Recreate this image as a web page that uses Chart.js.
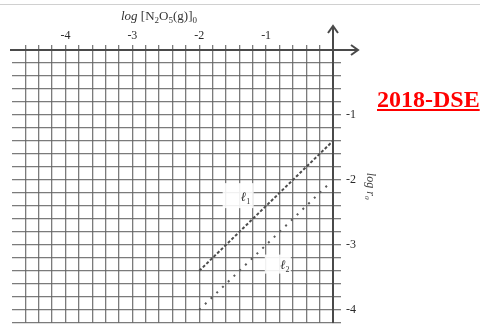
<!DOCTYPE html>
<html>
<head>
<meta charset="utf-8">
<script src="https://cdn.jsdelivr.net/npm/chart.js@4/dist/chart.umd.min.js"></script>
<style>
body{margin:0;background:#fff;}
#wrap{position:relative;width:480px;height:335px;overflow:hidden;}
#topline{position:absolute;left:0;top:4px;width:480px;height:1px;background:#d0d0d0;}
#dse{position:absolute;left:377px;top:86px;font:bold 24px "Liberation Serif",serif;color:#f00;text-decoration:underline;white-space:nowrap;}
</style>
</head>
<body>
<div id="wrap">
<div id="topline"></div>
<canvas id="c" width="480" height="335"></canvas>
<div id="dse">2018-DSE</div>
</div>
<script>
const l1X = [-2.0, 0.0];
const l1Y = [-3.4, -1.4];
const l2X = [-2.0, -0.05];
const l2Y = [-4.0, -2.05];
const xTickLabels = ["-4", "-3", "-2", "-1"];
const yTickLabels = ["-1", "-2", "-3", "-4"];

function onGrid(v){
const k = v / 0.2;
return Math.abs(k - Math.round(k)) < 1e-6;
}

function gridColor(ctx){
const v = ctx.tick ? ctx.tick.value : 0;
if(!onGrid(v) || v < -4.7) return "rgba(0,0,0,0)";
return "rgba(100,100,100,0.85)";
}

function tickText(list){
return function(v){
const s = String(Math.round(v));
if(Math.abs(v - Math.round(v)) < 1e-6 && list.includes(s)) return s;
return "";
};
}

function drawRuns(ctx, runs, x, y){
runs.forEach(r => {
ctx.font = r.f;
ctx.fillText(r.t, x, y + (r.dy || 0));
x += ctx.measureText(r.t).width;
});
}

const extras = {
id: "extras",
beforeDatasetsDraw(chart){
const ctx = chart.ctx;
const xs = chart.scales.x, ys = chart.scales.y;
ctx.save();
// white patches behind the line labels
ctx.fillStyle = "rgba(255,255,255,0.9)";
ctx.fillRect(xs.getPixelForValue(-1.65), ys.getPixelForValue(-2.05), 31, 25);
ctx.fillRect(xs.getPixelForValue(-1.02), ys.getPixelForValue(-3.15), 26, 19);
ctx.restore();
},
afterDraw(chart){
const ctx = chart.ctx;
const xs = chart.scales.x, ys = chart.scales.y;
const px0 = xs.getPixelForValue(0);
const py0 = ys.getPixelForValue(0);
ctx.save();
ctx.strokeStyle = "#4a4a4a";
ctx.lineWidth = 2;
ctx.beginPath();
ctx.moveTo(10, py0);
ctx.lineTo(px0 + 24, py0);
ctx.moveTo(px0 + 18, py0 - 5);
ctx.lineTo(px0 + 25, py0);
ctx.lineTo(px0 + 18, py0 + 5);
ctx.moveTo(px0, py0);
ctx.lineTo(px0, py0 - 24);
ctx.moveTo(px0 - 5, py0 - 17);
ctx.lineTo(px0, py0 - 24);
ctx.lineTo(px0 + 5, py0 - 17);
ctx.stroke();

ctx.fillStyle = "#333";
ctx.textBaseline = "alphabetic";
const serif = '"Liberation Serif", serif';
drawRuns(ctx, [
{t: "log ", f: "italic 13px " + serif},
{t: "[N", f: "13px " + serif},
{t: "2", f: "9px " + serif, dy: 3},
{t: "O", f: "13px " + serif},
{t: "5", f: "9px " + serif, dy: 3},
{t: "(g)]", f: "13px " + serif},
{t: "0", f: "9px " + serif, dy: 3}
], 121, 20);

drawRuns(ctx, [
{t: "\u2113", f: "italic 13px " + serif},
{t: "1", f: "8px " + serif, dy: 3}
], xs.getPixelForValue(-1.38), ys.getPixelForValue(-2.32));
drawRuns(ctx, [
{t: "\u2113", f: "italic 13px " + serif},
{t: "2", f: "8px " + serif, dy: 3}
], xs.getPixelForValue(-0.79), ys.getPixelForValue(-3.37));
ctx.restore();
}
};

new Chart(document.getElementById("c"), {
type: "scatter",
data: {
datasets: [
{
label: "l1",
data: l1X.map((x, i) => ({x: x, y: l1Y[i]})),
showLine: true,
borderColor: "#4d4d4d",
borderWidth: 2,
borderDash: [3, 2],
pointRadius: 0
},
{
label: "l2",
data: l2X.map((x, i) => ({x: x, y: l2Y[i]})),
showLine: true,
borderColor: "#5a5a5a",
borderWidth: 2,
borderDash: [2, 6],
pointRadius: 0
}
]
},
options: {
responsive: false,
animation: false,
layout: {padding: {left: 12, right: 97, top: 0, bottom: 4}},
plugins: {legend: {display: false}, tooltip: {enabled: false}},
scales: {
x: {
type: "linear",
position: "top",
min: -4.8,
max: 0,
afterFit(s){ s.height = 50; },
border: {display: true, color: "#4a4a4a", width: 2},
grid: {color: gridColor, lineWidth: 1.3, tickLength: 5, drawTicks: true},
ticks: {
stepSize: 0.2,
autoSkip: false,
maxRotation: 0,
padding: 2,
color: "#2a2a2a",
font: {family: "Liberation Serif", size: 12},
callback: tickText(xTickLabels)
}
},
y: {
type: "linear",
position: "right",
min: -4.2,
max: 0,
afterFit(s){ s.width = 50; },
border: {display: true, color: "#4a4a4a", width: 2},
grid: {color: gridColor, lineWidth: 1.3, tickLength: 8, drawTicks: true},
ticks: {
stepSize: 0.2,
autoSkip: false,
padding: 5,
color: "#2a2a2a",
font: {family: "Liberation Serif", size: 12},
callback: tickText(yTickLabels)
},
title: {
display: true,
text: "log r\u2080",
color: "#444",
padding: {top: 6, bottom: 0},
font: {family: "Liberation Serif", size: 12, style: "italic"}
}
}
}
},
plugins: [extras]
});
</script>
</body>
</html>
